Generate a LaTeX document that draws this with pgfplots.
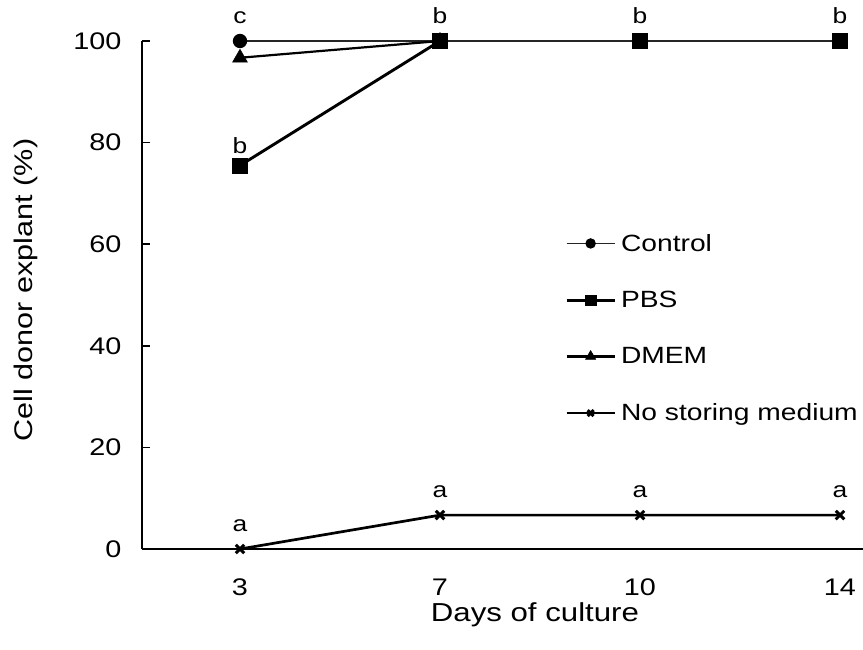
\documentclass[border=0pt]{standalone}
\usepackage{fontspec}
\setmainfont{Liberation Sans}[FakeStretch=1.2]
\usepackage{pgfplots}
\pgfplotsset{compat=1.18}
\begin{document}
\begin{tikzpicture}
\useasboundingbox (-142pt,-100pt) rectangle (721pt,549pt);
\begin{axis}[
  at={(0,0)}, anchor=south west,
  scale only axis,
  width=721pt, height=508pt,
  xmin=-0.49, xmax=3.115,
  ymin=0, ymax=100,
  clip=false,
  axis x line=bottom, axis y line=left,
  axis line style={-, line width=1.6pt},
  xtick={0,1,2,3}, xticklabels={3,7,10,14},
  ytick={0,20,...,100},
  x tick style={draw=none},
  y tick style={line width=1.6pt, black},
  tick align=inside,
  major tick length=8pt,
  /pgf/number format/assume math mode=true,
  tick label style={font=\fontsize{24}{28}\selectfont},
  yticklabel style={xshift=-17pt},
  xticklabel style={yshift=-26pt},
  xlabel={Days of culture},
  ylabel={Cell donor explant (\%)},
  xlabel style={font=\fontsize{26}{30}\selectfont, at={(axis description cs:0.545,-0.129)}, anchor=center},
  ylabel style={font=\fontsize{25.5}{30}\selectfont, at={(axis description cs:-0.161,0.51)}, anchor=center},
  legend style={draw=none, fill=none, at={(axis description cs:0.5825,0.626)}, anchor=north west,
    font=\fontsize{23.5}{28}\selectfont, row sep=36.5pt,
    nodes={inner sep=1pt, anchor=west},
    /tikz/every odd column/.append style={column sep=4pt}},
  legend cell align=left,
  legend image code/.code={\draw[#1, mark repeat=2, mark phase=2,
      /tikz/every mark/.append style={scale=0.7}]
    plot coordinates {(0pt,0pt) (24pt,0pt) (48pt,0pt)};},
  every node near coord/.append style={font=\fontsize{22}{26}\selectfont, black},
]
\addplot[black!85, line width=1.3pt, mark=*, mark size=6.5pt, mark options={black}]
  coordinates {(0,100) (1,100) (2,100) (3,100)};
\addplot[black, line width=2.9pt, mark=square*, mark size=7.5pt, mark options={line width=0.5pt}]
  coordinates {(0,75.5) (1,100)};
\addplot[black, line width=2.2pt, mark=triangle*, mark size=8.5pt, mark options={line width=0.5pt}]
  coordinates {(0,96.7) (1,100)};
\addplot[black, line width=2.7pt, mark=x, mark size=6pt, mark options={line width=3pt}]
  coordinates {(0,0) (1,6.67) (2,6.67) (3,6.67)};
\legend{Control, PBS, DMEM, No storing medium}
\addplot[black, only marks, mark=square*, mark size=7.5pt, mark options={line width=0.5pt}, forget plot]
  coordinates {(1,100) (2,100) (3,100)};
% significance letters
\addplot[draw=none, mark=none, forget plot, nodes near coords, point meta=explicit symbolic,
  every node near coord/.append style={yshift=14pt}]
  coordinates {(0,100)[c] (1,100)[b] (2,100)[b] (3,100)[b]
               (0,0)[a] (1,6.67)[a] (2,6.67)[a] (3,6.67)[a]};
\addplot[draw=none, mark=none, forget plot, nodes near coords, point meta=explicit symbolic,
  every node near coord/.append style={yshift=8pt}]
  coordinates {(0,75.5)[b]};
\end{axis}
\end{tikzpicture}
\end{document}
